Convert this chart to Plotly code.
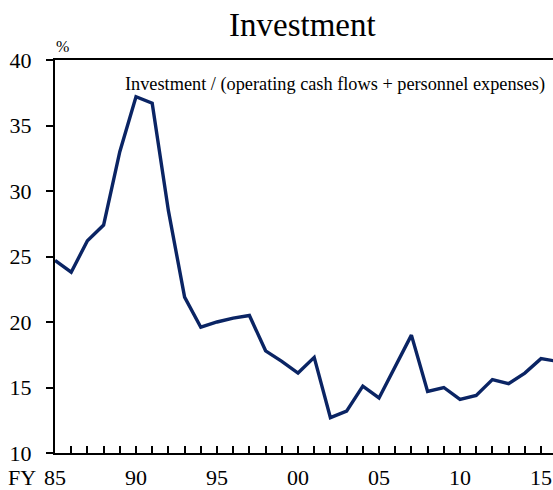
import plotly.graph_objects as go

years = list(range(1985, 2017))
values = [24.7, 23.8, 26.2, 27.4, 33.0, 37.2, 36.7, 28.5, 21.9, 19.6,
          20.0, 20.3, 20.5, 17.8, 17.0, 16.1, 17.3, 12.7, 13.2, 15.1,
          14.2, 16.6, 19.0, 14.7, 15.0, 14.1, 14.4, 15.6, 15.3, 16.1,
          17.2, 17.0]
tick_vals = [1985, 1990, 1995, 2000, 2005, 2010, 2015]
tick_text = ["85", "90", "95", "00", "05", "10", "15"]

font = "Liberation Serif, Times New Roman, serif"

fig = go.Figure()
fig.add_trace(go.Scatter(x=years, y=values, mode="lines",
                         line=dict(color="#0a2464", width=3.4), showlegend=False))

fig.update_layout(
    width=553, height=490,
    margin=dict(l=55, r=0, t=60, b=37, autoexpand=False),
    paper_bgcolor="white", plot_bgcolor="white",
    font=dict(family=font, color="black"),
    xaxis=dict(range=[1985, 2015.74], showgrid=False, zeroline=False, automargin=False,
               showline=True, linecolor="black", linewidth=2, mirror=True,
               ticks="inside", ticklen=7, tickwidth=1.6, tickcolor="black",
               tickmode="array", tickvals=years, ticktext=[""] * len(years)),
    yaxis=dict(range=[10, 40], showgrid=False, zeroline=False, automargin=False,
               showline=True, linecolor="black", linewidth=2,
               ticks="outside", ticklen=7, tickwidth=1.6, tickcolor="black",
               tickvals=[10, 15, 20, 25, 30, 35, 40],
               tickfont=dict(size=22, family=font), ticklabelstandoff=10),
)

# title
fig.add_annotation(x=(302 - 55) / 498, y=(453 - 25) / 393, xref="paper", yref="paper",
                   text="Investment", showarrow=False, xanchor="center", yanchor="middle",
                   font=dict(size=33, family=font))

# x tick labels (5-year marks)
for v, t in zip(tick_vals, tick_text):
    fig.add_annotation(x=v, y=0, xref="x", yref="paper", text=t, showarrow=False,
                       xanchor="center", yanchor="top", yshift=-10,
                       font=dict(size=22, family=font))
fig.add_annotation(x=tick_vals[0], y=0, xref="x", yref="paper", text="FY", showarrow=False,
                   xanchor="right", yanchor="top", xshift=-17, yshift=-10,
                   font=dict(size=22, family=font))

fig.add_annotation(x=(62 - 55) / 498, y=(453 - 46) / 393, xref="paper", yref="paper",
                   text="%", showarrow=False, xanchor="center", yanchor="middle",
                   font=dict(size=16, family=font))
fig.add_annotation(x=(547 - 55) / 498, y=(453 - 84) / 393, xref="paper", yref="paper",
                   text="Investment / (operating cash flows + personnel expenses)",
                   showarrow=False, xanchor="right", yanchor="middle",
                   font=dict(size=18.3, family=font))

fig.write_html("out.html", config={"displayModeBar": False},
               post_script="document.body.style.margin='0';document.body.style.overflow='hidden';")
